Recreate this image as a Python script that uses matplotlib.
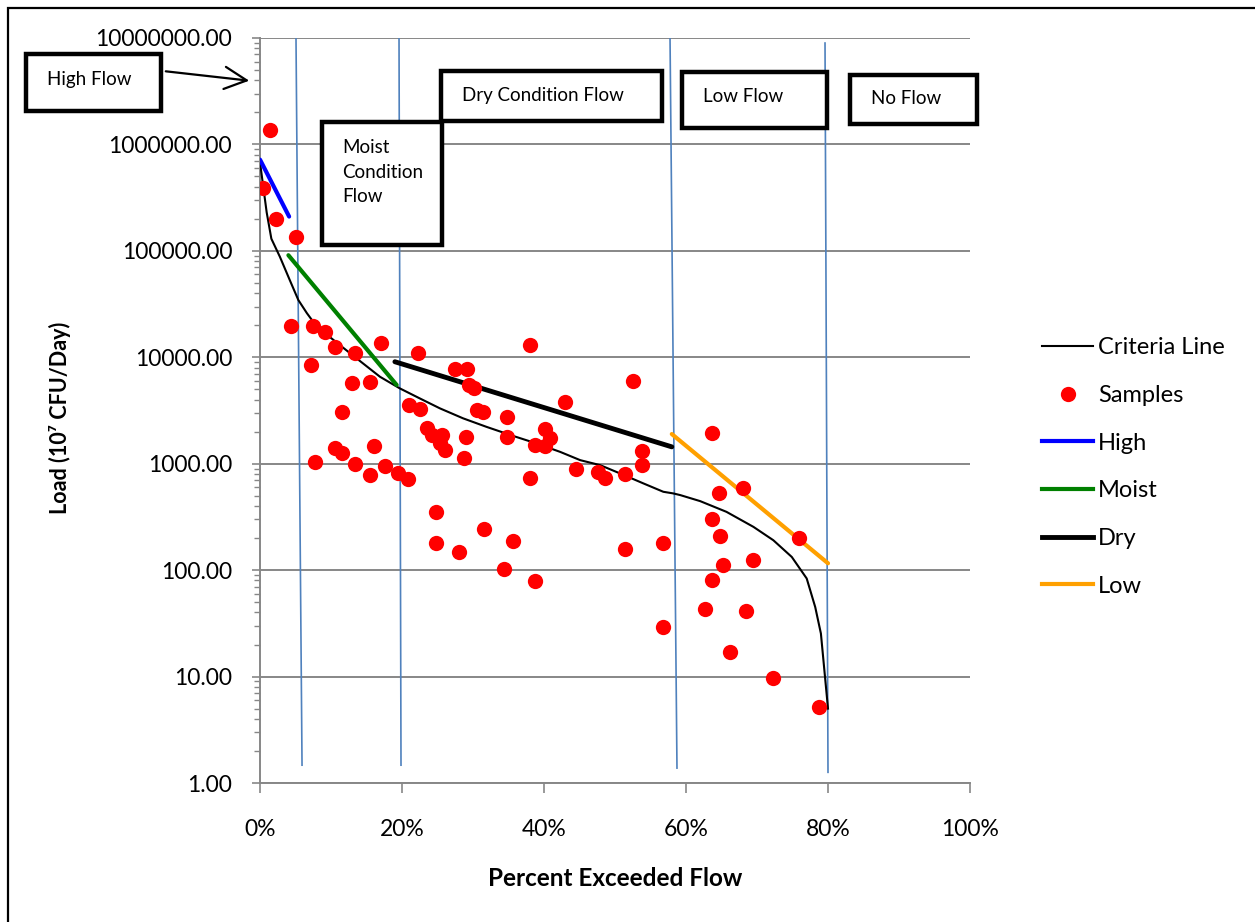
import matplotlib
matplotlib.use("Agg")
import matplotlib.pyplot as plt
from matplotlib.patches import Rectangle, FancyArrowPatch
from matplotlib.lines import Line2D
from matplotlib.ticker import FixedLocator, LogLocator, FuncFormatter, PercentFormatter

plt.rcParams['font.family'] = ['Lato', 'DejaVu Sans']

# load duration curve (percent of time flow exceeded vs load)
criteria_pct = [0.0, 0.46, 0.94, 1.6, 2.8, 4.2, 5.4, 6.6, 8.0, 12.7, 16.9, 19.7, 22.5,
                25.35, 28.6, 31.9, 35.7, 38.95, 42.3, 45.1, 47.9, 50.7, 54.0, 56.8,
                58.2, 59.2, 62.0, 65.7, 69.5, 72.3, 74.9, 77.0, 78.2, 79.0, 80.0]
criteria_load = [6.8e5, 4.0e5, 2.3e5, 1.3e5, 8.8e4, 5.3e4, 3.45e4, 2.6e4, 1.94e4,
                 1.09e4, 6560, 5100, 4110, 3310, 2670, 2220, 1820, 1550, 1290, 1080,
                 970, 811, 653, 545, 526, 507, 445, 353, 255, 191, 133, 83.5, 45,
                 25.4, 5.0]

# monitoring samples
sample_pct = [1.4, 0.4, 2.25, 5.07, 4.32, 7.5, 9.2, 10.5, 13.4, 17.0, 22.3, 7.2, 12.9,
              15.5, 11.6, 7.8, 10.5, 11.6, 13.4, 15.5, 16.1, 17.6, 19.5, 20.8, 21.0,
              22.5, 27.4, 29.1, 29.5, 30.1, 30.5, 31.4, 23.5, 24.2, 25.7, 25.3, 26.1,
              29.0, 28.8, 38.0, 52.5, 43.0, 34.8, 34.8, 40.1, 40.8, 38.7, 40.1, 53.8,
              53.8, 44.5, 47.6, 48.6, 51.4, 38.0, 24.8, 24.8, 28.0, 31.5, 35.7, 34.4,
              38.7, 51.4, 56.8, 63.7, 64.6, 68.0, 75.9, 63.7, 64.8, 65.2, 69.4, 63.7,
              62.7, 68.4, 56.8, 66.2, 72.3, 78.7]
sample_load = [1.36e6, 3.9e5, 2.0e5, 1.34e5, 1.98e4, 1.98e4, 1.71e4, 1.24e4, 1.09e4,
               1.35e4, 1.09e4, 8450, 5690, 5890, 3080, 1040, 1390, 1250, 985, 782,
               1470, 955, 820, 716, 3560, 3240, 7690, 7690, 5490, 5100, 3190, 3080,
               2150, 1860, 1860, 1550, 1340, 1790, 1120, 1.30e4, 5970, 3820, 2760,
               1790, 2100, 1730, 1500, 1460, 1310, 970, 883, 840, 737, 793, 737, 353,
               178, 148, 241, 187, 102, 79, 157, 178, 1950, 533, 586, 199, 301, 210,
               111, 124, 80.5, 43, 41.4, 29.3, 17.1, 9.8, 5.2]

# regression lines per flow regime
high_pct, high_load = [0.0, 4.1], [7.2e5, 2.1e5]
moist_pct, moist_load = [4.0, 19.25], [9.1e4, 5490]
dry_pct, dry_load = [19.0, 58.0], [9080, 1440]
low_pct, low_load = [58.0, 80.0], [1900, 116]

# flow regime boundaries: (x at top, x at bottom, y top, y bottom)
zone_lines = [(5.07, 5.92, 1e7, 1.47), (19.58, 19.86, 1e7, 1.47),
              (57.75, 58.73, 1e7, 1.38), (79.58, 80.0, 8.97e6, 1.26)]

W, H = 1255, 922
fig = plt.figure(figsize=(W / 100, H / 100), dpi=100)


def fx(px):
    return px / W


def fy(py):
    return 1 - py / H


grey = '#878787'
ax = fig.add_axes([fx(260), fy(783), fx(970) - fx(260), fy(38) - fy(783)])
ax.set_yscale('log')
ax.set_xlim(0, 100)
ax.set_ylim(1, 1e7)

for zx0, zx1, zy0, zy1 in zone_lines:
    ax.plot([zx0, zx1], [zy0, zy1], color='#4F81BD', lw=1.2, zorder=2)

ax.plot(criteria_pct, criteria_load, color='black', lw=1.5, zorder=3)
ax.plot(high_pct, high_load, color='#0000FF', lw=3, solid_capstyle='round', zorder=3)
ax.plot(moist_pct, moist_load, color='#008000', lw=3, solid_capstyle='round', zorder=3)
ax.plot(dry_pct, dry_load, color='black', lw=3.5, solid_capstyle='round', zorder=3)
ax.plot(low_pct, low_load, color='#FFA000', lw=3, solid_capstyle='round', zorder=3)
ax.plot(sample_pct, sample_load, 'o', color='#FF0000', ms=11, mec='none', zorder=4)

ax.grid(True, axis='y', which='major', color=grey, lw=1.4, zorder=1)
ax.set_axisbelow(True)
for s in ['top', 'right']:
    ax.spines[s].set_visible(False)
for s in ['left', 'bottom']:
    ax.spines[s].set_color(grey)
    ax.spines[s].set_linewidth(1.4)

ax.yaxis.set_major_locator(LogLocator(base=10, numticks=10))
ax.yaxis.set_minor_locator(LogLocator(base=10, subs=range(2, 10), numticks=20))
ax.yaxis.set_major_formatter(FuncFormatter(lambda v, p: f'{v:.2f}'))
ax.xaxis.set_major_locator(FixedLocator([0, 20, 40, 60, 80, 100]))
ax.xaxis.set_major_formatter(PercentFormatter(xmax=100, decimals=0))
ax.tick_params(axis='y', which='major', direction='out', length=6, width=1.2,
               color=grey, pad=14, labelsize=16.5)
ax.tick_params(axis='y', which='minor', direction='out', length=4, width=1.0, color=grey)
ax.tick_params(axis='x', which='major', direction='out', length=7, width=1.2,
               color=grey, pad=19, labelsize=16.5)

fig.text(fx(615), fy(878), 'Percent Exceeded Flow', ha='center', va='center',
         fontsize=17.5, fontweight='bold')
fig.text(fx(60), fy(418), 'Load (10⁷ CFU/Day)', ha='center', va='center',
         rotation=90, fontsize=15.5, fontweight='bold')

handles = [
    Line2D([], [], color='black', lw=1.5),
    Line2D([], [], ls='none', marker='o', color='#FF0000', ms=11, mec='none'),
    Line2D([], [], color='#0000FF', lw=3),
    Line2D([], [], color='#008000', lw=3),
    Line2D([], [], color='black', lw=3.5),
    Line2D([], [], color='#FFA000', lw=3),
]
labels = ['Criteria Line', 'Samples', 'High', 'Moist', 'Dry', 'Low']
fig.legend(handles, labels, loc='upper left', bbox_to_anchor=(fx(1021), fy(316)),
           frameon=False, fontsize=17, labelspacing=1.13, handlelength=2.15,
           handletextpad=0.2)

# regime label boxes
boxes = [
    ('High Flow', 26, 54, 161, 111, 47, 80),
    ('Moist\nCondition\nFlow', 322, 122, 442, 245, 342, 172),
    ('Dry Condition Flow', 441, 71, 662, 121, 462, 95),
    ('Low Flow', 682, 72, 827, 128, 703, 96),
    ('No Flow', 850, 75, 977, 124, 871, 98),
]
for text, x0, y0, x1, y1, tx, ty in boxes:
    fig.add_artist(Rectangle((fx(x0), fy(y1)), fx(x1) - fx(x0), fy(y0) - fy(y1),
                             transform=fig.transFigure, facecolor='white',
                             edgecolor='black', lw=3.2, zorder=5))
    fig.text(fx(tx), fy(ty), text, ha='left', va='center', fontsize=13.5,
             linespacing=1.55, zorder=6)

fig.add_artist(FancyArrowPatch((fx(163), fy(71)), (fx(252), fy(81)),
                               transform=fig.transFigure,
                               arrowstyle='->,head_length=0.8,head_width=0.4',
                               mutation_scale=20, lw=1.6, color='black', zorder=6))

# chart frame
fig.add_artist(Rectangle((fx(8), -0.05), 1.2, fy(8) + 0.05, transform=fig.transFigure,
                         fill=False, edgecolor='black', lw=1.6, zorder=7))

fig.savefig('out.png', dpi=100)
